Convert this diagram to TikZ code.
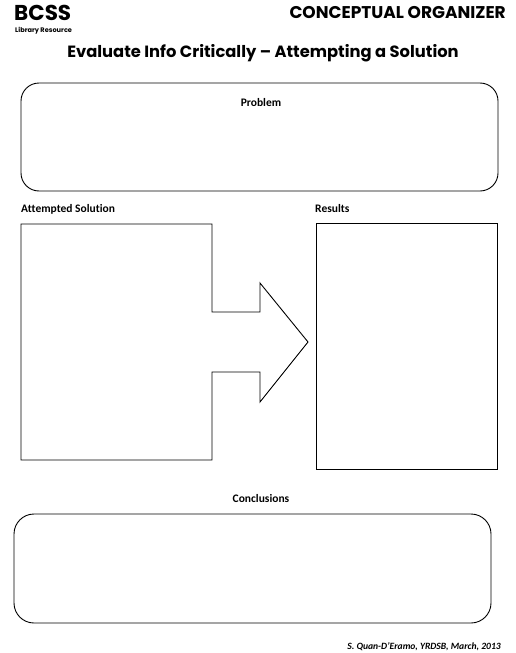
\documentclass[tikz,border=0pt]{standalone}
\usepackage{fontspec}
\setmainfont[Ligatures={NoCommon}]{Carlito}
\newfontfamily\gothic{Poppins}
\begin{document}
\begin{tikzpicture}[x=1pt,y=-1pt,
  box/.style={draw=black,line width=0.9pt},
  lbl/.style={font=\bfseries\fontsize{11.5}{13}\selectfont,inner sep=0pt}]
\useasboundingbox[fill=white] (0,0) rectangle (515,653);
% header
\node[anchor=base west,inner sep=0pt,font=\gothic\bfseries\fontsize{21.5}{22}\selectfont] (bcss) at (14,20) {BCSS};
\node[anchor=base west,inner sep=0pt,font=\gothic\bfseries\fontsize{6.6}{7}\selectfont] (lib) at (15,32) {Library Resource};
\node[anchor=base east,inner sep=0pt,font=\gothic\bfseries\fontsize{17}{18}\selectfont] (co) at (506,18) {CONCEPTUAL ORGANIZER};
\node[anchor=base,inner sep=0pt,font=\gothic\bfseries\fontsize{16.3}{18}\selectfont] (title) at (263,57) {Evaluate Info Critically – Attempting a Solution};
% problem
\draw[box,rounded corners=18pt] (21,83) rectangle (498,191);
\node[lbl,anchor=base] (prob) at (261,106) {Problem};
% attempted solution
\node[lbl,anchor=base west] (att) at (21,212) {Attempted Solution};
\node[lbl,anchor=base west] (res) at (315,212) {Results};
\draw[box,line join=miter] (21,224) -- (212,224) -- (212,312) -- (260,312) -- (260,283) -- (308,342) -- (260,402) -- (260,372) -- (212,372) -- (212,460) -- (21,460) -- cycle;
\draw[box] (316,223) rectangle (497,469);
% conclusions
\node[lbl,anchor=base] (conc) at (261,502) {Conclusions};
\draw[box,rounded corners=20pt] (14,514) rectangle (491,623);
\node[anchor=base east,inner sep=0pt,font=\itshape\bfseries\fontsize{9.6}{10}\selectfont] (foot) at (501,649) {S. Quan-D’Eramo, YRDSB, March, 2013};
\end{tikzpicture}
\end{document}
